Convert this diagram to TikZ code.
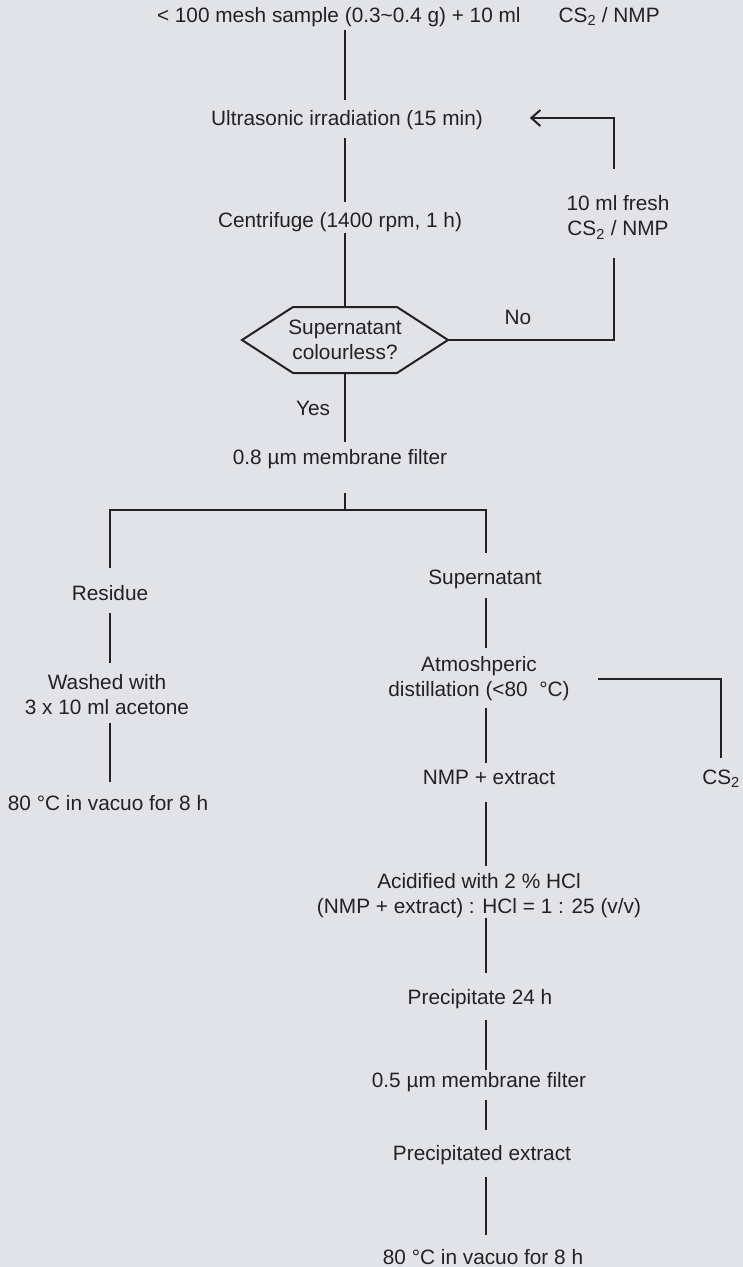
\documentclass[tikz,border=0pt]{standalone}
\usepackage{fontspec}
\setmainfont{Liberation Sans}
\usetikzlibrary{arrows.meta}
\definecolor{bg}{RGB}{226,227,232}
\definecolor{ink}{RGB}{34,34,36}
\begin{document}
\begin{tikzpicture}[x=1pt,y=-1pt,
  txt/.style={font=\fontsize{20.8}{25}\selectfont, text=ink, inner sep=0pt, outer sep=0pt},
  one/.style={txt, text height=15pt, text depth=0pt},
  two/.style={txt, align=center},
  conn/.style={draw=ink, line width=2pt},
  arr/.style={-{Straight Barb[length=9pt,width=16pt]}}
]
\fill[bg] (0,0) rectangle (743,1267);
\useasboundingbox (0,0) rectangle (743,1267);

% column coordinates
\coordinate (cM) at (345,0);
\coordinate (cR) at (486,0);
\coordinate (cL) at (110,0);
\coordinate (cF) at (614,0);
\coordinate (br) at (345,510);

% nodes
\node[one, anchor=west] (title) at (157,15) {< 100 mesh sample (0.3\textasciitilde0.4 g) + 10 ml\hspace{38pt}CS\textsubscript{2} / NMP};
\node[one] (ultra) at (347,118) {Ultrasonic irradiation (15 min)};
\node[one] (centri) at (340,220) {Centrifuge (1400 rpm, 1 h)};
\node[txt, minimum width=206pt, minimum height=66pt, align=center] (dec) at (345,340) {Supernatant\\colourless?};
\node[one] (no) at (518,317) {No};
\node[two] (fresh) at (618,217.5) {10 ml fresh\\CS\textsubscript{2} / NMP};
\node[one] (yes) at (313,408) {Yes};
\node[one] (filt8) at (340,457) {0.8 µm membrane filter};
\node[one] (residue) at (110,593) {Residue};
\node[one] (sup) at (485,577) {Supernatant};
\node[two] (washed) at (107,694.5) {Washed with\\3 x 10 ml acetone};
\node[one] (lfinal) at (108,803) {80 °C in vacuo for 8 h};
\node[two] (dist) at (479,678.5) {Atmoshperic\\distillation (<80~~°C)};
\node[one] (nmp) at (489,777) {NMP + extract};
\node[one] (cs2) at (721,777) {CS\textsubscript{2}};
\node[two] (acid) at (479,895.5) {Acidified with 2 \% HCl\\(NMP + extract) : HCl = 1 : 25 (v/v)};
\node[one] (prec) at (480,997) {Precipitate 24 h};
\node[one] (filt5) at (479,1080) {0.5 µm membrane filter};
\node[one] (pext) at (482,1153) {Precipitated extract};
\node[one] (final) at (483,1257) {80 °C in vacuo for 8 h};

% decision shape
\draw[conn] (dec.west) -- ([xshift=51pt]dec.north west) -- ([xshift=-51pt]dec.north east) -- (dec.east) -- ([xshift=-51pt]dec.south east) -- ([xshift=51pt]dec.south west) -- cycle;

% connectors
\draw[conn, shorten <=7.5pt, shorten >=10.5pt] (title.south -| cM) -- (ultra.north -| cM);
\draw[conn, shorten <=12.5pt, shorten >=10.5pt] (ultra.south -| cM) -- (centri.north -| cM);
\draw[conn, shorten <=5.5pt] (centri.south -| cM) -- (dec.north);
\draw[conn, shorten >=19pt] (dec.east) -| (fresh.south -| cF);
\draw[conn, arr, shorten <=27pt, shorten >=47pt] (fresh.north -| cF) |- (ultra.east);
\draw[conn, shorten >=7.5pt] (dec.south) -- (filt8.north -| cM);
\draw[conn, shorten <=28.5pt] (filt8.south -| cM) -- (br);
\draw[conn, shorten >=17.5pt] (br) -| (residue.north -| cL);
\draw[conn, shorten >=16.5pt] (br) -| (sup.north -| cR);
\draw[conn, shorten <=12.5pt, shorten >=11.3pt] (residue.south -| cL) -- (washed.north -| cL);
\draw[conn, shorten <=8.2pt, shorten >=13.5pt] (washed.south -| cL) -- (lfinal.north -| cL);
\draw[conn, shorten <=13.5pt, shorten >=8.3pt] (sup.south -| cR) -- (dist.north -| cR);
\draw[conn, shorten <=7.1pt, shorten >=6.5pt] (dist.south -| cR) -- (nmp.north -| cR);
\draw[conn, shorten <=28pt, shorten >=11.5pt] (dist.east) -| (cs2.north);
\draw[conn, shorten <=17.5pt, shorten >=7.3pt] (nmp.south -| cR) -- (acid.north -| cR);
\draw[conn, shorten >=16.5pt] (acid.south -| cR) -- (prec.north -| cR);
\draw[conn, shorten <=15.5pt, shorten >=2.5pt] (prec.south -| cR) -- (filt5.north -| cR);
\draw[conn, shorten <=12.5pt, shorten >=15.5pt] (filt5.south -| cR) -- (pext.north -| cR);
\draw[conn, shorten <=16.5pt, shorten >=14.5pt] (pext.south -| cR) -- (final.north -| cR);
\end{tikzpicture}
\end{document}
